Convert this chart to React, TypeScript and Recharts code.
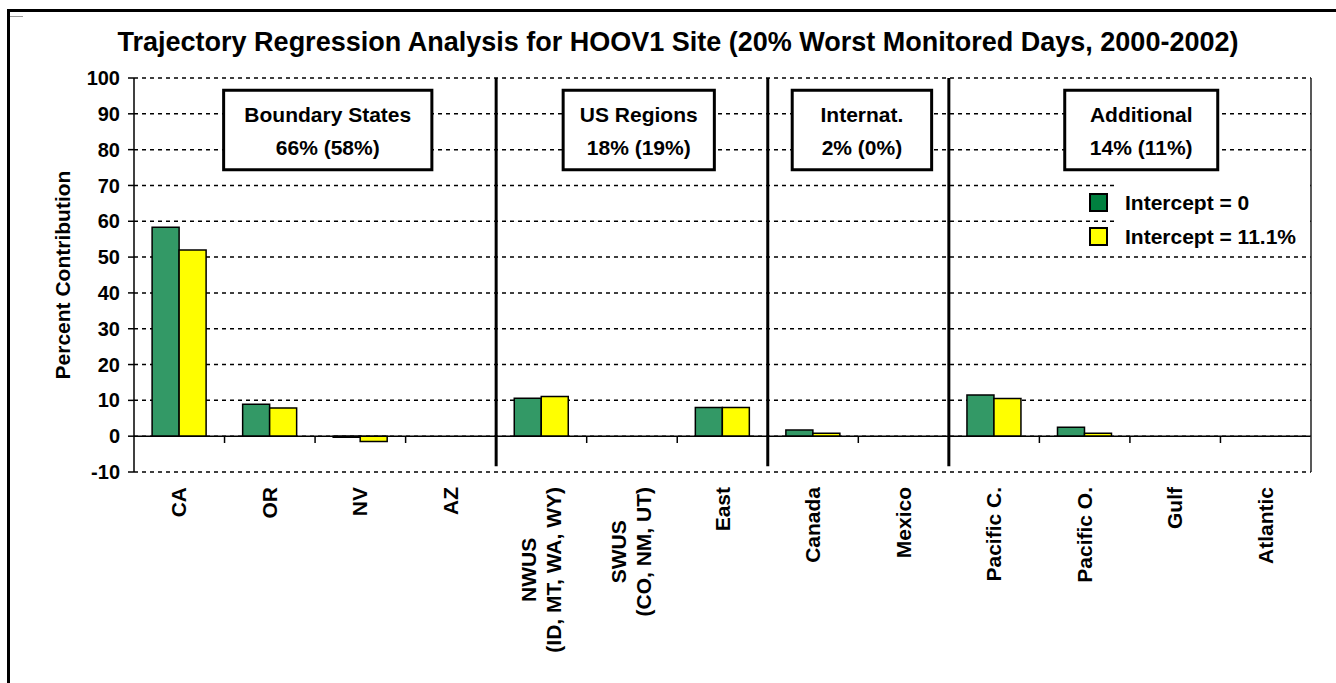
import React from "react";
import {
    ComposedChart,
    Bar,
    XAxis,
    YAxis,
    CartesianGrid,
    ReferenceLine,
    ReferenceArea,
    Legend,
    Label
} from "recharts";

const FONT = "Arial, 'Liberation Sans', Helvetica, sans-serif";

// source regions (x axis)
const categories = [
    "CA",
    "OR",
    "NV",
    "AZ",
    "NWUS\n(ID, MT, WA, WY)",
    "SWUS\n(CO, NM, UT)",
    "East",
    "Canada",
    "Mexico",
    "Pacific C.",
    "Pacific O.",
    "Gulf",
    "Atlantic"
];

// percent contribution per region
const intercept0 = [58.3, 8.9, -0.3, 0, 10.6, 0, 8.0, 1.7, 0, 11.5, 2.5, 0, 0];
const intercept111 = [52.0, 7.9, -1.5, 0, 11.1, 0, 8.0, 0.8, 0, 10.5, 0.8, 0, 0];

const seriesNames = ["Intercept = 0", "Intercept = 11.1%"];

const yTicks = [-10, 0, 10, 20, 30, 40, 50, 60, 70, 80, 90, 100];

// group headings + totals
const groupTitles = ["Boundary States", "US Regions", "Internat.", "Additional"];
const groupShares = ["66% (58%)", "18% (19%)", "2% (0%)", "14% (11%)"];

// category index where each new group starts
const groupStarts = [4, 7, 9];

const chartData = categories.map((name, i) => ({
    name,
    pos: i + 0.5,
    a: intercept0[i],
    b: intercept111[i]
}));

let measureCtx: CanvasRenderingContext2D | null = null;
function textWidth(s: string) {
    if (!measureCtx) measureCtx = document.createElement("canvas").getContext("2d");
    if (!measureCtx) return s.length * 11;
    measureCtx.font = `bold 21px ${FONT}`;
    return measureCtx.measureText(s).width;
}

function XTick(props: any) {
    const { x, y, payload } = props;
    const lines = String(payload.value).split("\n");
    const longest = Math.max(...lines.map(textWidth));
    const lh = 25;
    return (
        <g transform={`translate(${x},${y}) rotate(-90)`}>
            {lines.map((ln, i) => (
                <text
                    key={i}
                    x={-longest / 2}
                    y={(i - (lines.length - 1) / 2) * lh + 7}
                    textAnchor="middle"
                    fontSize={21}
                    fontWeight={700}
                    fontFamily={FONT}
                    fill="#000"
                >
                    {ln}
                </text>
            ))}
        </g>
    );
}

const boxLabel = (i: number) => (p: any) => {
    const { x, y, width } = p.viewBox;
    const cx = x + width / 2;
    return (
        <g fontFamily={FONT} fontWeight={700} fontSize={21} fill="#000">
            <text x={cx} y={y + 32} textAnchor="middle">{groupTitles[i]}</text>
            <text x={cx} y={y + 65} textAnchor="middle">{groupShares[i]}</text>
        </g>
    );
};

function LegendBox(props: any) {
    const items = props.payload || [];
    return (
        <div
            style={{
                position: "relative",
                background: "#fff",
                width: 190,
                height: 76,
                fontFamily: FONT,
                fontWeight: 700,
                fontSize: 21,
                color: "#000"
            }}
        >
            {items.map((it: any, i: number) => (
                <div
                    key={i}
                    style={{ position: "absolute", left: 7, top: 17 + i * 34, lineHeight: "24px", whiteSpace: "nowrap" }}
                >
                    <span
                        style={{
                            position: "absolute",
                            left: -36,
                            top: 2,
                            width: 15,
                            height: 15,
                            background: i === 0 ? "#00803f" : it.color,
                            border: "2px solid #000"
                        }}
                    />
                    {it.value}
                </div>
            ))}
        </div>
    );
}

export default function App() {
    return (
        <div
            style={{
                position: "absolute",
                left: 0,
                top: 0,
                width: 1336,
                height: 683,
                overflow: "hidden",
                background: "#fff"
            }}
        >
            {/* outer frame */}
            <div
                style={{
                    position: "absolute",
                    left: 7,
                    top: 9,
                    width: 2000,
                    height: 2000,
                    borderTop: "3px solid #000",
                    borderLeft: "3px solid #000"
                }}
            />
            <div style={{ position: "absolute", left: 10, top: 16, width: 13, height: 1, background: "#999" }} />

            <div
                style={{
                    position: "absolute",
                    left: 0,
                    top: 29,
                    width: 1356,
                    textAlign: "center",
                    fontFamily: FONT,
                    fontWeight: 700,
                    fontSize: 27,
                    lineHeight: "27px",
                    color: "#000",
                    whiteSpace: "nowrap"
                }}
            >
                Trajectory Regression Analysis for HOOV1 Site (20% Worst Monitored Days, 2000-2002)
            </div>

            <div style={{ position: "absolute", left: 0, top: 0 }}>
                <ComposedChart
                    width={1336}
                    height={683}
                    data={chartData}
                    margin={{ top: 78, right: 25, left: 54, bottom: 0 }}
                    barCategoryGap="20%"
                    barGap={0}
                >
                    <CartesianGrid horizontal vertical={false} stroke="#000" strokeWidth={1.5} strokeDasharray="4 4" />
                    <XAxis
                        dataKey="name"
                        interval={0}
                        height={211}
                        axisLine={false}
                        tickLine={false}
                        tickSize={0}
                        tickMargin={15}
                        tick={<XTick />}
                    />
                    <XAxis xAxisId="num" type="number" dataKey="pos" domain={[0, 13]} allowDataOverflow hide />
                    <YAxis
                        width={80}
                        domain={[-10, 100]}
                        ticks={yTicks}
                        interval={0}
                        allowDataOverflow
                        axisLine={{ stroke: "#000", strokeWidth: 1.5 }}
                        tickLine={{ stroke: "#000", strokeWidth: 1.5 }}
                        tickSize={6}
                        tickMargin={8}
                        tick={{ fontSize: 20, fontWeight: 700, fill: "#000", fontFamily: FONT }}
                    >
                        <Label
                            content={(p: any) => {
                                const vb = p.viewBox;
                                const cx = vb.x + 8;
                                const cy = vb.y + vb.height / 2;
                                return (
                                    <text
                                        x={cx}
                                        y={cy}
                                        transform={`rotate(-90 ${cx} ${cy})`}
                                        textAnchor="middle"
                                        dominantBaseline="central"
                                        fontFamily={FONT}
                                        fontWeight={700}
                                        fontSize={21}
                                        fill="#000"
                                    >
                                        Percent Contribution
                                    </text>
                                );
                            }}
                        />
                    </YAxis>
                    <Legend
                        layout="vertical"
                        align="center"
                        verticalAlign="middle"
                        content={<LegendBox />}
                        wrapperStyle={{ left: 1118, top: 174, width: 190, height: 76 }}
                    />

                    <Bar dataKey="a" name={seriesNames[0]} fill="#339966" stroke="#000" strokeWidth={1.5} isAnimationActive={false} />
                    <Bar dataKey="b" name={seriesNames[1]} fill="#ffff00" stroke="#000" strokeWidth={1.5} isAnimationActive={false} />

                    <ReferenceLine y={0} stroke="#000" strokeWidth={1.5} />
                    <ReferenceLine
                        xAxisId="num"
                        segment={[{ x: 13, y: 100 }, { x: 13, y: -10 }]}
                        stroke="#222"
                        strokeWidth={1.5}
                        ifOverflow="visible"
                    />
                    {categories.slice(1).map((_, k) =>
                        groupStarts.includes(k + 1) ? null : (
                            <ReferenceLine
                                key={`t${k}`}
                                xAxisId="num"
                                segment={[{ x: k + 1, y: 0 }, { x: k + 1, y: -1.9 }]}
                                stroke="#000"
                                strokeWidth={1.5}
                            />
                        )
                    )}
                    {groupStarts.map((g) => (
                        <ReferenceLine
                            key={`g${g}`}
                            xAxisId="num"
                            segment={[{ x: g, y: 100 }, { x: g, y: -8.4 }]}
                            stroke="#000"
                            strokeWidth={3}
                        />
                    ))}

                    <ReferenceArea xAxisId="num" x1={0.99} x2={3.29} y1={74.4} y2={96.6} fill="#fff" fillOpacity={1} stroke="#000" strokeWidth={3} label={boxLabel(0)} />
                    <ReferenceArea xAxisId="num" x1={4.74} x2={6.41} y1={74.4} y2={96.6} fill="#fff" fillOpacity={1} stroke="#000" strokeWidth={3} label={boxLabel(1)} />
                    <ReferenceArea xAxisId="num" x1={7.27} x2={8.81} y1={74.4} y2={96.6} fill="#fff" fillOpacity={1} stroke="#000" strokeWidth={3} label={boxLabel(2)} />
                    <ReferenceArea xAxisId="num" x1={10.28} x2={11.97} y1={74.4} y2={96.6} fill="#fff" fillOpacity={1} stroke="#000" strokeWidth={3} label={boxLabel(3)} />
                </ComposedChart>
            </div>
        </div>
    );
}
